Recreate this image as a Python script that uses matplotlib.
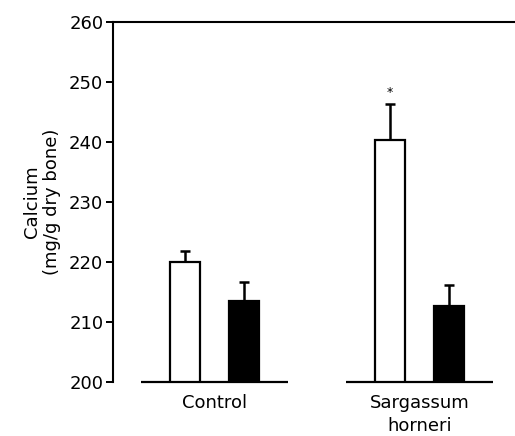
import matplotlib.pyplot as plt
import numpy as np

groups = ['Control', 'Sargassum\nhorneri']
white_vals = [220.0, 240.3]
white_err = [1.8, 6.0]
black_vals = [213.5, 212.7]
black_err = [3.2, 3.5]

x = np.arange(len(groups))
off = 0.144
w = 0.147

fig = plt.figure(figsize=(5.15, 4.36), dpi=100)
ax = fig.add_axes([0.2194, 0.1239, 0.7806, 0.8256])

ax.bar(x - off, white_vals, w, color='white', edgecolor='black', linewidth=1.6, zorder=2)
ax.bar(x + off, black_vals, w, color='black', edgecolor='black', linewidth=1.6, zorder=2)
ax.errorbar(x - off, white_vals, yerr=[np.zeros(2), white_err], fmt='none',
            ecolor='black', elinewidth=1.8, capsize=3.5, capthick=1.8, zorder=1)
ax.errorbar(x + off, black_vals, yerr=[np.zeros(2), black_err], fmt='none',
            ecolor='black', elinewidth=1.8, capsize=3.5, capthick=1.8, zorder=1)

# baseline segments under each group
for xi in x:
    ax.plot([xi - 0.36, xi + 0.36], [200, 200], color='black', lw=1.6, zorder=3,
            solid_capstyle='butt', clip_on=False)

# significance mark
ax.text(x[1] - off, white_vals[1] + white_err[1] + 0.8, '*', ha='center', va='bottom', fontsize=9)

ax.set_ylim(200, 260)
ax.set_xlim(-0.4976, 1.468)
ax.set_yticks(np.arange(200, 261, 10))
ax.tick_params(axis='y', direction='out', length=5, width=1.4, labelsize=13, pad=2)
ax.set_xticks(x)
ax.set_xticklabels(groups, fontsize=13, linespacing=1.3)
ax.tick_params(axis='x', length=0, pad=9)

ax.spines['bottom'].set_visible(False)
ax.spines['right'].set_visible(False)
ax.spines['left'].set_linewidth(1.5)
ax.spines['top'].set_linewidth(1.5)

ax.set_ylabel('Calcium\n(mg/g dry bone)', fontsize=13, linespacing=1.15, labelpad=6)

fig.savefig('out.png', dpi=100)
